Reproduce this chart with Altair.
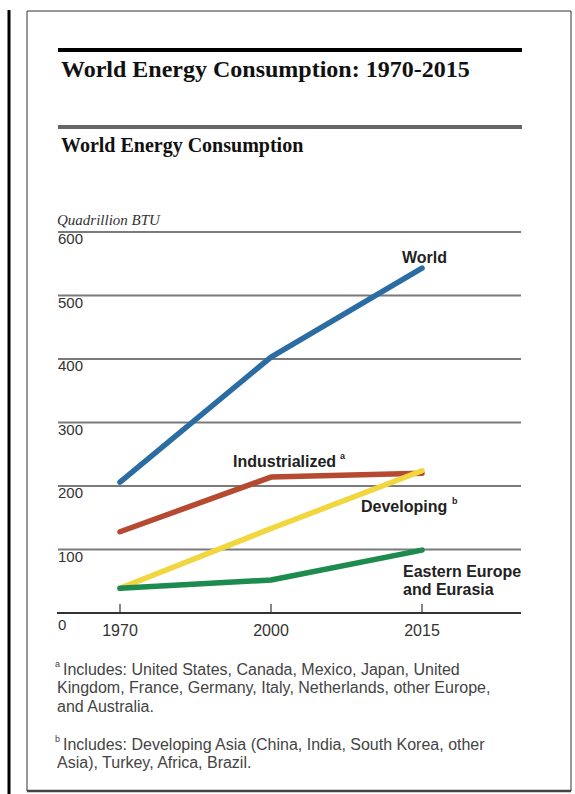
import altair as alt
import pandas as pd

# ---- data ----
years = ["1970", "2000", "2015"]
world = [206, 403, 543]
industrialized = [128, 214, 220]
developing = [39, 133, 224]
eastern = [39, 52, 99]
series_names = ["Developing", "Industrialized", "Eastern Europe and Eurasia", "World"]
series_colors = ["#f1d63e", "#b54a30", "#1d8a4e", "#2b6ca3"]
grid_values = [100, 200, 300, 400, 500, 600]
zero_value = [0]

title_text = "World Energy Consumption: 1970-2015"
subtitle_text = "World Energy Consumption"
unit_text = "Quadrillion BTU"
footnote_a = ["Includes: United States, Canada, Mexico, Japan, United",
              "Kingdom, France, Germany, Italy, Netherlands, other Europe,",
              "and Australia."]
footnote_b = ["Includes: Developing Asia (China, India, South Korea, other",
              "Asia), Turkey, Africa, Brazil."]

rows = []
for name, vals in zip(["World", "Industrialized", "Developing", "Eastern Europe and Eurasia"],
                      [world, industrialized, developing, eastern]):
    for yr, v in zip(years, vals):
        rows.append({"series": name, "year": yr, "value": v})
lines_df = pd.DataFrame(rows)
grid_df = pd.DataFrame({"v": grid_values})
zero_df = pd.DataFrame({"v": zero_value})
years_df = pd.DataFrame({"year": years})

W, H = 575, 794
xscale = alt.Scale(type="point", domain=years, range=[120, 422], padding=0)
yscale = alt.Scale(domain=[0, 600], range=[613, 232], nice=False, zero=False)

one = pd.DataFrame({"k": [0]})
base = alt.Chart(one)

SERIF = "Liberation Serif"
SANS = "Liberation Sans"

def txt(text, x, y, size, font=SANS, weight="normal", style="normal", color="#222", align="left"):
    return base.mark_text(text=text, font=font, fontSize=size, fontWeight=weight, fontStyle=style,
                          color=color, align=align, baseline="alphabetic").encode(
        x=alt.value(x), y=alt.value(y))

def rule(x, x2, y, y2, color, width):
    return base.mark_rule(color=color, strokeWidth=width).encode(
        x=alt.value(x), x2=alt.value(x2), y=alt.value(y), y2=alt.value(y2))

frame_left = rule(9, 9, 10, 794, "#000", 3)
box = base.mark_rect(fill="white", stroke="#333", strokeWidth=1).encode(
    x=alt.value(27), x2=alt.value(571), y=alt.value(11), y2=alt.value(791))
box_bottom = rule(27, 571, 791, 791, "#444", 2.5)

top_rule = rule(58, 522, 50, 50, "#000", 4)
title = txt(title_text, 61, 77, 24, font=SERIF, weight="bold", color="#111")
sub_rule = rule(58, 522, 127, 127, "#666", 4)
subtitle = txt(subtitle_text, 61, 152, 20, font=SERIF, weight="bold", color="#111")
unit = txt(unit_text, 57, 225, 15, font=SERIF, style="italic", color="#333")

grid = alt.Chart(grid_df).mark_rule(color="#7a7a7a", strokeWidth=2).encode(
    y=alt.Y("v:Q", scale=yscale, axis=None), x=alt.value(58), x2=alt.value(521))
axis_line = alt.Chart(zero_df).mark_rule(color="#333", strokeWidth=2).encode(
    y=alt.Y("v:Q", scale=yscale, axis=None), x=alt.value(57), x2=alt.value(521))
ylabels = alt.Chart(grid_df).mark_text(font=SANS, fontSize=15, color="#333", align="left",
                                       baseline="alphabetic", dy=12).encode(
    y=alt.Y("v:Q", scale=yscale, axis=None), x=alt.value(58), text="v:Q")
zlabel = alt.Chart(zero_df).mark_text(font=SANS, fontSize=15, color="#333", align="left",
                                      baseline="alphabetic", dy=17).encode(
    y=alt.Y("v:Q", scale=yscale, axis=None), x=alt.value(58), text="v:Q")

xticks = alt.Chart(years_df).mark_rule(color="#333", strokeWidth=1.2).encode(
    x=alt.X("year:O", scale=xscale, axis=None), y=alt.value(604), y2=alt.value(613))
xlabels = alt.Chart(years_df).mark_text(font=SANS, fontSize=16, color="#333", align="center",
                                        baseline="alphabetic").encode(
    x=alt.X("year:O", scale=xscale, axis=None), y=alt.value(636), text="year:N")

lines = alt.Chart(lines_df).mark_line(strokeWidth=5.5, strokeCap="round", strokeJoin="round").encode(
    x=alt.X("year:O", scale=xscale, axis=None),
    y=alt.Y("value:Q", scale=yscale, axis=None),
    color=alt.Color("series:N", scale=alt.Scale(domain=series_names, range=series_colors), legend=None),
    order=alt.Order("year:O"),
    detail="series:N",
)

lab_world = txt("World", 402, 263, 16, weight="bold")
lab_ind = txt("Industrialized", 233, 467, 16, weight="bold")
lab_ind_sup = txt("a", 340, 459, 9, weight="bold")
lab_dev = txt("Developing", 361, 512, 16, weight="bold")
lab_dev_sup = txt("b", 452, 504, 9, weight="bold")
lab_ee1 = txt("Eastern Europe", 403, 577, 16, weight="bold")
lab_ee2 = txt("and Eurasia", 403, 595, 16, weight="bold")

fn = []
FN = 16
fn.append(txt("a", 55, 667, 9, color="#444"))
fn.append(txt(footnote_a[0], 63, 675, FN, color="#444"))
fn.append(txt(footnote_a[1], 57, 693, FN, color="#444"))
fn.append(txt(footnote_a[2], 57, 712, FN, color="#444"))
fn.append(txt("b", 55, 742, 9, color="#444"))
fn.append(txt(footnote_b[0], 63, 750, FN, color="#444"))
fn.append(txt(footnote_b[1], 57, 768, FN, color="#444"))

chart = alt.layer(
    box, frame_left, box_bottom, top_rule, title, sub_rule, subtitle, unit,
    grid, axis_line, ylabels, zlabel, xticks, xlabels, lines,
    lab_world, lab_ind, lab_ind_sup, lab_dev, lab_dev_sup, lab_ee1, lab_ee2, *fn
).properties(
    width=W, height=H, autosize=alt.AutoSizeParams(type="none"), padding=0,
    background="white"
).configure_view(stroke=None)

chart.save("out.html", embed_options={"renderer": "svg", "actions": False})
